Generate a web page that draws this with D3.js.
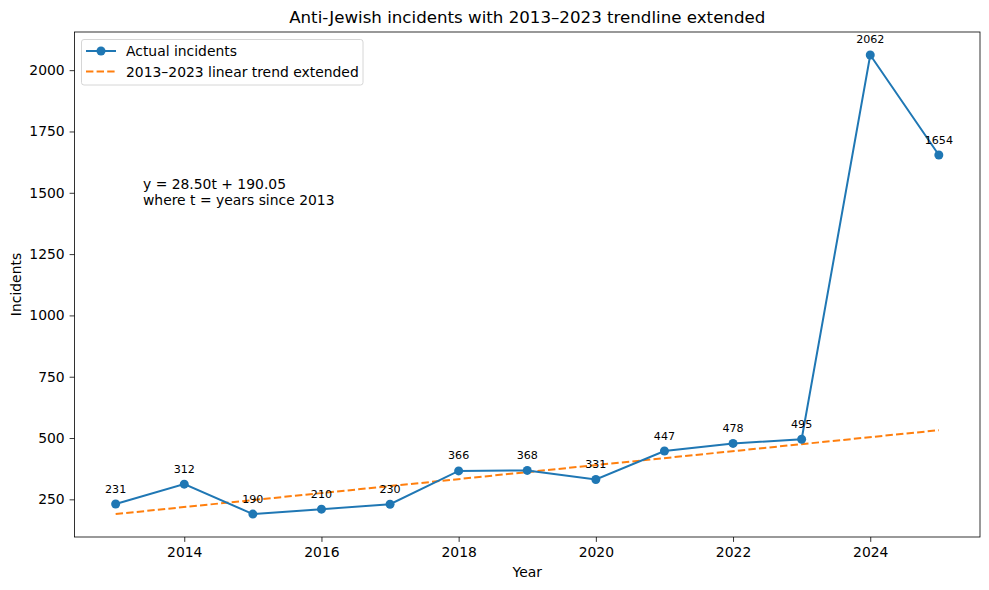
<!DOCTYPE html>
<html>
<head>
<meta charset="utf-8">
<script src="https://cdn.jsdelivr.net/npm/d3@7"></script>
<style>
  body { margin: 0; background: #fff; }
  svg { font-family: "DejaVu Sans", sans-serif; }
</style>
</head>
<body>
<svg width="989" height="590"></svg>
<script>
var years = [2013, 2014, 2015, 2016, 2017, 2018, 2019, 2020, 2021, 2022, 2023, 2024, 2025];
var incidents = [231, 312, 190, 210, 230, 366, 368, 331, 447, 478, 495, 2062, 1654];
var trendYears = [2013, 2025];
var trendValues = [190.05, 532.05];
var xTicks = [2014, 2016, 2018, 2020, 2022, 2024];
var yTicks = [250, 500, 750, 1000, 1250, 1500, 1750, 2000];

var width = 989;
var height = 590;
var margin = { top: 32, right: 9, bottom: 53, left: 74.5 };

var blue = "#1f77b4";
var orange = "#ff7f0e";

var data = years.map((y, i) => ({ year: y, value: incidents[i] }));
var trend = trendYears.map((y, i) => ({ year: y, value: trendValues[i] }));

var xScale = d3.scaleLinear()
  .domain([2012.4, 2025.6])
  .range([margin.left, width - margin.right]);

var yScale = d3.scaleLinear()
  .domain([96.45, 2155.6])
  .range([height - margin.bottom, margin.top]);

var svg = d3.select("svg");

// Axes
var xAxis = d3.axisBottom(xScale)
  .tickValues(xTicks)
  .tickFormat(d3.format("d"))
  .tickSize(4.9)
  .tickPadding(4.9)
  .tickSizeOuter(0);

var yAxis = d3.axisLeft(yScale)
  .tickValues(yTicks)
  .tickFormat(d3.format("d"))
  .tickSize(4.9)
  .tickPadding(4.9)
  .tickSizeOuter(0);

var gx = svg.append("g")
  .attr("transform", `translate(0, ${height - margin.bottom})`)
  .call(xAxis);

var gy = svg.append("g")
  .attr("transform", `translate(${margin.left}, 0)`)
  .call(yAxis);

[gx, gy].forEach(g => {
  g.select(".domain").remove();
  g.selectAll("text").style("font-size", "13.9px").attr("fill", "#000");
  g.selectAll("line").attr("stroke", "#000").attr("stroke-width", 0.8);
  g.style("font-family", "DejaVu Sans, sans-serif");
});

// Frame
svg.append("rect")
  .attr("x", margin.left)
  .attr("y", margin.top)
  .attr("width", width - margin.left - margin.right)
  .attr("height", height - margin.top - margin.bottom)
  .attr("fill", "none")
  .attr("stroke", "#000")
  .attr("stroke-width", 0.8);

// Trend line
var line = d3.line()
  .x(d => xScale(d.year))
  .y(d => yScale(d.value));

svg.append("path")
  .datum(trend)
  .attr("d", line)
  .attr("fill", "none")
  .attr("stroke", orange)
  .attr("stroke-width", 2)
  .attr("stroke-dasharray", "7.4,3.2");

// Actual line
svg.append("path")
  .datum(data)
  .attr("d", line)
  .attr("fill", "none")
  .attr("stroke", blue)
  .attr("stroke-width", 2);

svg.selectAll("circle.pt")
  .data(data)
  .enter()
  .append("circle")
    .attr("class", "pt")
    .attr("cx", d => xScale(d.year))
    .attr("cy", d => yScale(d.value))
    .attr("r", 4.5)
    .attr("fill", blue);

// Value labels
svg.selectAll("text.val")
  .data(data)
  .enter()
  .append("text")
    .attr("class", "val")
    .attr("x", d => xScale(d.year))
    .attr("y", d => yScale(d.value) - 11.5)
    .attr("text-anchor", "middle")
    .style("font-size", "11.1px")
    .text(d => d.value);

// Axis labels
svg.append("text")
  .attr("x", (margin.left + width - margin.right) / 2)
  .attr("y", 577)
  .attr("text-anchor", "middle")
  .style("font-size", "13.9px")
  .text("Year");

svg.append("text")
  .attr("transform", `translate(21, ${(margin.top + height - margin.bottom) / 2}) rotate(-90)`)
  .attr("text-anchor", "middle")
  .style("font-size", "13.9px")
  .text("Incidents");

// Title
svg.append("text")
  .attr("x", (margin.left + width - margin.right) / 2)
  .attr("y", 23)
  .attr("text-anchor", "middle")
  .style("font-size", "16.67px")
  .text("Anti-Jewish incidents with 2013\u20132023 trendline extended");

// Equation annotation
svg.append("text")
  .attr("x", 143)
  .attr("y", 189)
  .style("font-size", "13.9px")
  .text("y = 28.50t + 190.05");
svg.append("text")
  .attr("x", 143)
  .attr("y", 205)
  .style("font-size", "13.9px")
  .text("where t = years since 2013");

// Legend
var legend = svg.append("g");
legend.append("rect")
  .attr("x", 81.5)
  .attr("y", 39.5)
  .attr("width", 281.5)
  .attr("height", 45.5)
  .attr("rx", 2.5)
  .attr("fill", "#fff")
  .attr("fill-opacity", 0.8)
  .attr("stroke", "#cccccc")
  .attr("stroke-width", 0.8);

legend.append("line")
  .attr("x1", 86).attr("x2", 116)
  .attr("y1", 51).attr("y2", 51)
  .attr("stroke", blue).attr("stroke-width", 2);
legend.append("circle")
  .attr("cx", 101).attr("cy", 51).attr("r", 4.5).attr("fill", blue);
legend.append("text")
  .attr("x", 126).attr("y", 56)
  .style("font-size", "13.9px")
  .text("Actual incidents");

legend.append("line")
  .attr("x1", 86).attr("x2", 116)
  .attr("y1", 71.5).attr("y2", 71.5)
  .attr("stroke", orange).attr("stroke-width", 2)
  .attr("stroke-dasharray", "7.4,3.2");
legend.append("text")
  .attr("x", 126).attr("y", 76.5)
  .style("font-size", "13.9px")
  .text("2013\u20132023 linear trend extended");
</script>
</body>
</html>
